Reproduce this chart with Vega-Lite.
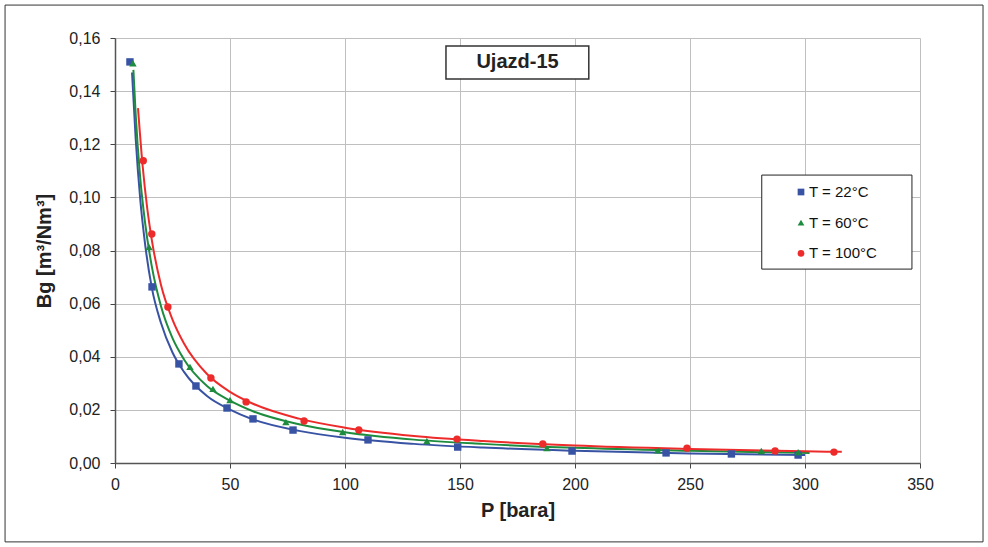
{
  "$schema": "https://vega.github.io/schema/vega-lite/v6.json",
  "width": 805,
  "height": 425,
  "autosize": {"type": "none"},
  "padding": {"left": 115, "top": 38, "right": 68, "bottom": 84},
  "background": "white",
  "config": {
    "view": {"stroke": null},
    "font": "Liberation Sans",
    "locale": {"number": {"decimal": ",", "thousands": ".", "grouping": [3], "currency": ["", " €"]}},
    "legend": {
      "orient": "none", "legendX": 678.5, "legendY": 146.5, "padding": 0,
      "labelFontSize": 15, "labelColor": "#111111", "labelOffset": 0.5,
      "symbolSize": 45, "rowPadding": 14.7, "symbolStrokeWidth": 0, "zindex": 3
    }
  },
  "datasets": {
    "one": [{}],
    "points": [
      {"T": "T = 22°C", "P": 6.5, "Bg": 0.151},
      {"T": "T = 22°C", "P": 16.1, "Bg": 0.0663},
      {"T": "T = 22°C", "P": 27.8, "Bg": 0.0373},
      {"T": "T = 22°C", "P": 35.2, "Bg": 0.029},
      {"T": "T = 22°C", "P": 48.7, "Bg": 0.0207},
      {"T": "T = 22°C", "P": 60, "Bg": 0.0166},
      {"T": "T = 22°C", "P": 77.4, "Bg": 0.0124},
      {"T": "T = 22°C", "P": 110, "Bg": 0.0087},
      {"T": "T = 22°C", "P": 149, "Bg": 0.006},
      {"T": "T = 22°C", "P": 198.7, "Bg": 0.0045},
      {"T": "T = 22°C", "P": 239.6, "Bg": 0.0038},
      {"T": "T = 22°C", "P": 268, "Bg": 0.0034},
      {"T": "T = 22°C", "P": 297, "Bg": 0.003},
      {"T": "T = 60°C", "P": 7.8, "Bg": 0.1505},
      {"T": "T = 60°C", "P": 14.8, "Bg": 0.0813},
      {"T": "T = 60°C", "P": 32.6, "Bg": 0.0362},
      {"T": "T = 60°C", "P": 42.6, "Bg": 0.0279},
      {"T": "T = 60°C", "P": 50, "Bg": 0.0237},
      {"T": "T = 60°C", "P": 74.3, "Bg": 0.0154},
      {"T": "T = 60°C", "P": 99, "Bg": 0.0117},
      {"T": "T = 60°C", "P": 135.6, "Bg": 0.0083},
      {"T": "T = 60°C", "P": 187.8, "Bg": 0.0056},
      {"T": "T = 60°C", "P": 236, "Bg": 0.0048},
      {"T": "T = 60°C", "P": 281, "Bg": 0.0045},
      {"T": "T = 60°C", "P": 297, "Bg": 0.0041},
      {"T": "T = 100°C", "P": 12.3, "Bg": 0.1138},
      {"T": "T = 100°C", "P": 16, "Bg": 0.0862},
      {"T": "T = 100°C", "P": 23, "Bg": 0.0587},
      {"T": "T = 100°C", "P": 41.7, "Bg": 0.032},
      {"T": "T = 100°C", "P": 57, "Bg": 0.023},
      {"T": "T = 100°C", "P": 82.2, "Bg": 0.0158},
      {"T": "T = 100°C", "P": 106, "Bg": 0.0124},
      {"T": "T = 100°C", "P": 148.7, "Bg": 0.009},
      {"T": "T = 100°C", "P": 186, "Bg": 0.0072},
      {"T": "T = 100°C", "P": 248.7, "Bg": 0.0056},
      {"T": "T = 100°C", "P": 287, "Bg": 0.0045},
      {"T": "T = 100°C", "P": 312.6, "Bg": 0.0041}
    ],
    "curves": [
      {"T": "T = 22°C", "P": 7.4, "Bg": 0.147},
      {"T": "T = 22°C", "P": 9, "Bg": 0.122},
      {"T": "T = 22°C", "P": 11, "Bg": 0.099},
      {"T": "T = 22°C", "P": 13, "Bg": 0.083},
      {"T": "T = 22°C", "P": 16, "Bg": 0.066},
      {"T": "T = 22°C", "P": 20, "Bg": 0.0527},
      {"T": "T = 22°C", "P": 25, "Bg": 0.0416},
      {"T": "T = 22°C", "P": 30, "Bg": 0.0343},
      {"T": "T = 22°C", "P": 40, "Bg": 0.0252},
      {"T": "T = 22°C", "P": 50, "Bg": 0.0201},
      {"T": "T = 22°C", "P": 60, "Bg": 0.0164},
      {"T": "T = 22°C", "P": 80, "Bg": 0.0121},
      {"T": "T = 22°C", "P": 100, "Bg": 0.0095},
      {"T": "T = 22°C", "P": 130, "Bg": 0.0072},
      {"T": "T = 22°C", "P": 160, "Bg": 0.0058},
      {"T": "T = 22°C", "P": 200, "Bg": 0.0046},
      {"T": "T = 22°C", "P": 250, "Bg": 0.0036},
      {"T": "T = 22°C", "P": 300, "Bg": 0.003},
      {"T": "T = 60°C", "P": 8, "Bg": 0.148},
      {"T": "T = 60°C", "P": 9, "Bg": 0.131},
      {"T": "T = 60°C", "P": 11, "Bg": 0.107},
      {"T": "T = 60°C", "P": 13, "Bg": 0.091},
      {"T": "T = 60°C", "P": 16, "Bg": 0.074},
      {"T": "T = 60°C", "P": 20, "Bg": 0.059},
      {"T": "T = 60°C", "P": 25, "Bg": 0.047},
      {"T": "T = 60°C", "P": 30, "Bg": 0.039},
      {"T": "T = 60°C", "P": 40, "Bg": 0.029},
      {"T": "T = 60°C", "P": 50, "Bg": 0.0235},
      {"T": "T = 60°C", "P": 60, "Bg": 0.0195},
      {"T": "T = 60°C", "P": 80, "Bg": 0.0146},
      {"T": "T = 60°C", "P": 100, "Bg": 0.0116},
      {"T": "T = 60°C", "P": 130, "Bg": 0.0088},
      {"T": "T = 60°C", "P": 160, "Bg": 0.0072},
      {"T": "T = 60°C", "P": 200, "Bg": 0.0057},
      {"T": "T = 60°C", "P": 250, "Bg": 0.0046},
      {"T": "T = 60°C", "P": 302, "Bg": 0.0038},
      {"T": "T = 100°C", "P": 10, "Bg": 0.1336},
      {"T": "T = 100°C", "P": 12, "Bg": 0.112},
      {"T": "T = 100°C", "P": 14, "Bg": 0.096},
      {"T": "T = 100°C", "P": 16, "Bg": 0.084},
      {"T": "T = 100°C", "P": 20, "Bg": 0.067},
      {"T": "T = 100°C", "P": 25, "Bg": 0.054},
      {"T": "T = 100°C", "P": 30, "Bg": 0.045},
      {"T": "T = 100°C", "P": 40, "Bg": 0.0335},
      {"T": "T = 100°C", "P": 50, "Bg": 0.0268},
      {"T": "T = 100°C", "P": 60, "Bg": 0.0223},
      {"T": "T = 100°C", "P": 80, "Bg": 0.0167},
      {"T": "T = 100°C", "P": 100, "Bg": 0.0133},
      {"T": "T = 100°C", "P": 130, "Bg": 0.0102},
      {"T": "T = 100°C", "P": 160, "Bg": 0.0083},
      {"T": "T = 100°C", "P": 200, "Bg": 0.0066},
      {"T": "T = 100°C", "P": 250, "Bg": 0.0053},
      {"T": "T = 100°C", "P": 300, "Bg": 0.0044},
      {"T": "T = 100°C", "P": 316, "Bg": 0.0042}
    ]
  },
  "layer": [
    {
      "data": {"name": "curves"},
      "mark": {"type": "line", "interpolate": "monotone", "strokeWidth": 2},
      "encoding": {
        "x": {
          "field": "P", "type": "quantitative",
          "scale": {"domain": [0, 350], "nice": false},
          "axis": {
            "values": [0, 50, 100, 150, 200, 250, 300, 350],
            "grid": true,
            "title": "P [bara]", "titleFontSize": 20, "titleFontWeight": "bold", "titleColor": "#222222", "titlePadding": 8,
            "labelFontSize": 16, "labelColor": "#222222", "labelPadding": 8, "labelFlush": false,
            "tickSize": 5, "tickColor": "#444444", "domainColor": "#555555", "domainWidth": 1.5,
            "gridColor": "#BFBFBF", "gridWidth": 1
          }
        },
        "y": {
          "field": "Bg", "type": "quantitative",
          "scale": {"domain": [0, 0.16], "nice": false},
          "axis": {
            "values": [0, 0.02, 0.04, 0.06, 0.08, 0.1, 0.12, 0.14, 0.16],
            "grid": true,
            "format": ".2f",
            "title": "Bg [m³/Nm³]", "titleFontSize": 20, "titleFontWeight": "bold", "titleColor": "#222222", "titlePadding": 14,
            "labelFontSize": 16, "labelColor": "#222222", "labelPadding": 10, "labelFlush": false,
            "tickSize": 5, "tickColor": "#444444", "domainColor": "#555555", "domainWidth": 1.5,
            "gridColor": "#BFBFBF", "gridWidth": 1
          }
        },
        "color": {
          "field": "T", "type": "nominal",
          "scale": {"domain": ["T = 22°C", "T = 60°C", "T = 100°C"], "range": ["#3953A4", "#1E8C3E", "#EE2B2B"]},
          "legend": {"title": null}
        },
        "detail": {"field": "T"}
      }
    },
    {
      "data": {"name": "points"},
      "mark": {"type": "point", "filled": true, "opacity": 1, "size": 55},
      "encoding": {
        "x": {"field": "P", "type": "quantitative"},
        "y": {"field": "Bg", "type": "quantitative"},
        "color": {"field": "T", "type": "nominal", "legend": {"title": null}},
        "shape": {
          "field": "T", "type": "nominal",
          "scale": {"domain": ["T = 22°C", "T = 60°C", "T = 100°C"], "range": ["square", "triangle-up", "circle"]},
          "legend": {"title": null}
        }
      }
    },
    {
      "data": {"name": "one"},
      "mark": {"type": "rect", "filled": false, "stroke": "#333333", "strokeWidth": 1, "clip": false},
      "encoding": {
        "x": {"datum": -47.8, "type": "quantitative"},
        "x2": {"datum": 377.4},
        "y": {"datum": 0.1724, "type": "quantitative"},
        "y2": {"datum": -0.0297}
      }
    },
    {
      "data": {"name": "one"},
      "mark": {"type": "rect", "fill": "white", "stroke": "#222222", "strokeWidth": 1},
      "encoding": {
        "x": {"datum": 281.2, "type": "quantitative"},
        "x2": {"datum": 346.5},
        "y": {"datum": 0.1084, "type": "quantitative"},
        "y2": {"datum": 0.0730}
      }
    },
    {
      "data": {"name": "one"},
      "mark": {"type": "rect", "fill": "white", "stroke": "#333333", "strokeWidth": 1.5},
      "encoding": {
        "x": {"datum": 143.9, "type": "quantitative"},
        "x2": {"datum": 206},
        "y": {"datum": 0.157, "type": "quantitative"},
        "y2": {"datum": 0.1446}
      }
    },
    {
      "data": {"name": "one"},
      "mark": {"type": "text", "text": "Ujazd-15", "fontSize": 20, "fontWeight": "bold", "color": "#222222", "align": "center", "baseline": "middle"},
      "encoding": {
        "x": {"datum": 175, "type": "quantitative"},
        "y": {"datum": 0.1508, "type": "quantitative"}
      }
    }
  ]
}
